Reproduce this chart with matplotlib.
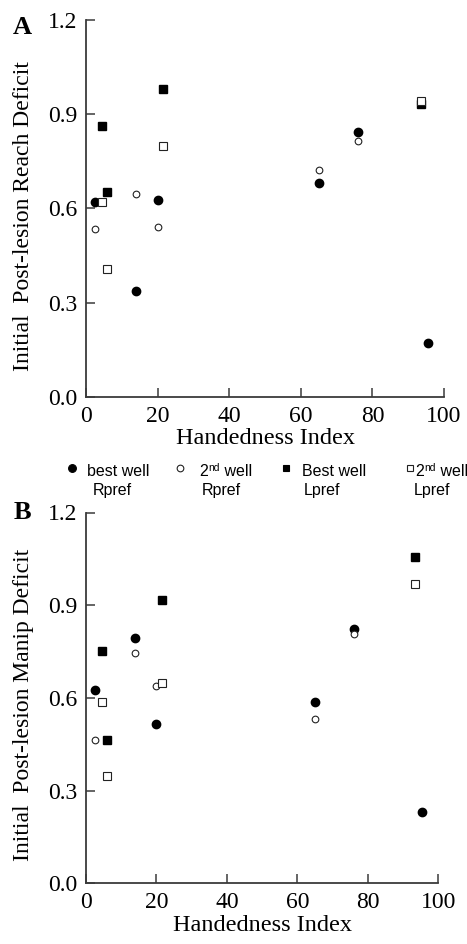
import matplotlib
matplotlib.use('Agg')
import matplotlib.pyplot as plt
from matplotlib.lines import Line2D
from matplotlib.ticker import FormatStrFormatter

plt.rcParams['font.family'] = 'serif'
plt.rcParams['font.serif'] = ['Liberation Serif', 'DejaVu Serif']

# handedness index of each rat (x values)
hi_rpref = [2.5, 14, 20, 65, 76, 95.5]
hi_lpref = [4.5, 6, 21.5, 93.5]

# panel A: reach deficit
reach_best_r = [0.62, 0.338, 0.626, 0.68, 0.844, 0.17]
reach_2nd_r = [0.534, 0.645, 0.54, 0.722, 0.816]
reach_best_l = [0.862, 0.652, 0.981, 0.932]
reach_2nd_l = [0.619, 0.408, 0.799, 0.943]

# panel B: manipulation deficit
manip_best_r = [0.627, 0.794, 0.516, 0.586, 0.823, 0.23]
manip_2nd_r = [0.465, 0.746, 0.64, 0.533, 0.808]
manip_best_l = [0.752, 0.465, 0.916, 1.057]
manip_2nd_l = [0.588, 0.348, 0.649, 0.968]

# x positions for open circles (the 2nd well has no point at x=95.5)
hi_rpref_2nd = hi_rpref[:5]

W, H = 467, 944
fig = plt.figure(figsize=(W / 100, H / 100), dpi=100)

AXCOL = '#3a3a3a'
LEGFONT = 'Liberation Sans'


def style_axes(ax, ylabel):
    ax.set_xlim(0, 100)
    ax.set_ylim(0, 1.2)
    ax.set_xticks([0, 20, 40, 60, 80, 100])
    ax.set_yticks([0, 0.3, 0.6, 0.9, 1.2])
    ax.yaxis.set_major_formatter(FormatStrFormatter('%.1f'))
    for s in ['top', 'right']:
        ax.spines[s].set_visible(False)
    for s in ['left', 'bottom']:
        ax.spines[s].set_color(AXCOL)
        ax.spines[s].set_linewidth(1.3)
    ax.tick_params(axis='both', direction='in', length=6.5, width=1.1,
                   color=AXCOL, labelsize=17)
    ax.tick_params(axis='y', pad=6.5)
    ax.tick_params(axis='x', pad=6.5)
    ax.set_xlabel('Handedness Index', fontsize=17.5, labelpad=1)
    ax.set_ylabel(ylabel, fontsize=17, labelpad=6)


def draw_points(ax, best_r, sec_r, best_l, sec_l):
    ax.plot(hi_rpref, best_r, 'o', color='black', markersize=6, clip_on=False)
    ax.plot(hi_rpref_2nd, sec_r, 'o', mfc='white', mec='#222222',
            mew=0.8, markersize=4.8, clip_on=False)
    ax.plot(hi_lpref, best_l, 's', color='black', markersize=5.2, clip_on=False)
    ax.plot(hi_lpref, sec_l, 's', mfc='white', mec='#222222',
            mew=0.8, markersize=5.2, clip_on=False)


def px(x, y):
    return x / W, 1 - y / H


axA = fig.add_axes([86 / W, 1 - 396.7 / H, 358 / W, 376.7 / H])
draw_points(axA, reach_best_r, reach_2nd_r, reach_best_l, reach_2nd_l)
style_axes(axA, 'Initial  Post-lesion Reach Deficit')
axA.yaxis.set_label_coords(-0.145, 0.48)

axB = fig.add_axes([86 / W, 1 - 883.3 / H, 352.3 / W, 370.8 / H])
draw_points(axB, manip_best_r, manip_2nd_r, manip_best_l, manip_2nd_l)
style_axes(axB, 'Initial  Post-lesion Manip Deficit')
axB.yaxis.set_label_coords(-0.148, 0.48)

# panel letters
fig.text(*px(13, 34), 'A', fontsize=19, fontweight='bold')
fig.text(*px(14, 519), 'B', fontsize=19, fontweight='bold')

# legend between the panels (pixel positions)
leg = [
    ('o', 'black', 'black', 5.6, 71.7, 'best well', 87, 'Rpref', 93),
    ('o', 'white', '#222222', 4.8, 180, '2nd well', 199, 'Rpref', 202),
    ('s', 'black', 'black', 4.4, 286, 'Best well', 302, 'Lpref', 304),
    ('s', 'white', '#222222', 4.8, 409.5, '2nd well', 415, 'Lpref', 414),
]
fs = 11.5
for mk, fc, ec, ms, mx, t1, x1, t2, x2 in leg:
    fig.add_artist(Line2D([mx / W], [1 - 468 / H], marker=mk, mfc=fc, mec=ec,
                          mew=0.8, markersize=ms, linestyle='none',
                          transform=fig.transFigure))
    if t1.startswith('2nd'):
        # "2" + superscript "nd" + " well", laid out piece by piece
        fig.text(*px(x1, 476), '2', family=LEGFONT, fontsize=fs, va='baseline')
        fig.text(*px(x1 + 9, 471), 'nd', family=LEGFONT, fontsize=7.5,
                 va='baseline')
        fig.text(*px(x1 + 21, 476), ' well', family=LEGFONT, fontsize=fs,
                 va='baseline')
    else:
        fig.text(*px(x1, 476), t1, family=LEGFONT, fontsize=fs, va='baseline')
    fig.text(*px(x2, 495), t2, family=LEGFONT, fontsize=fs, va='baseline')

fig.savefig('out.png', dpi=100)
